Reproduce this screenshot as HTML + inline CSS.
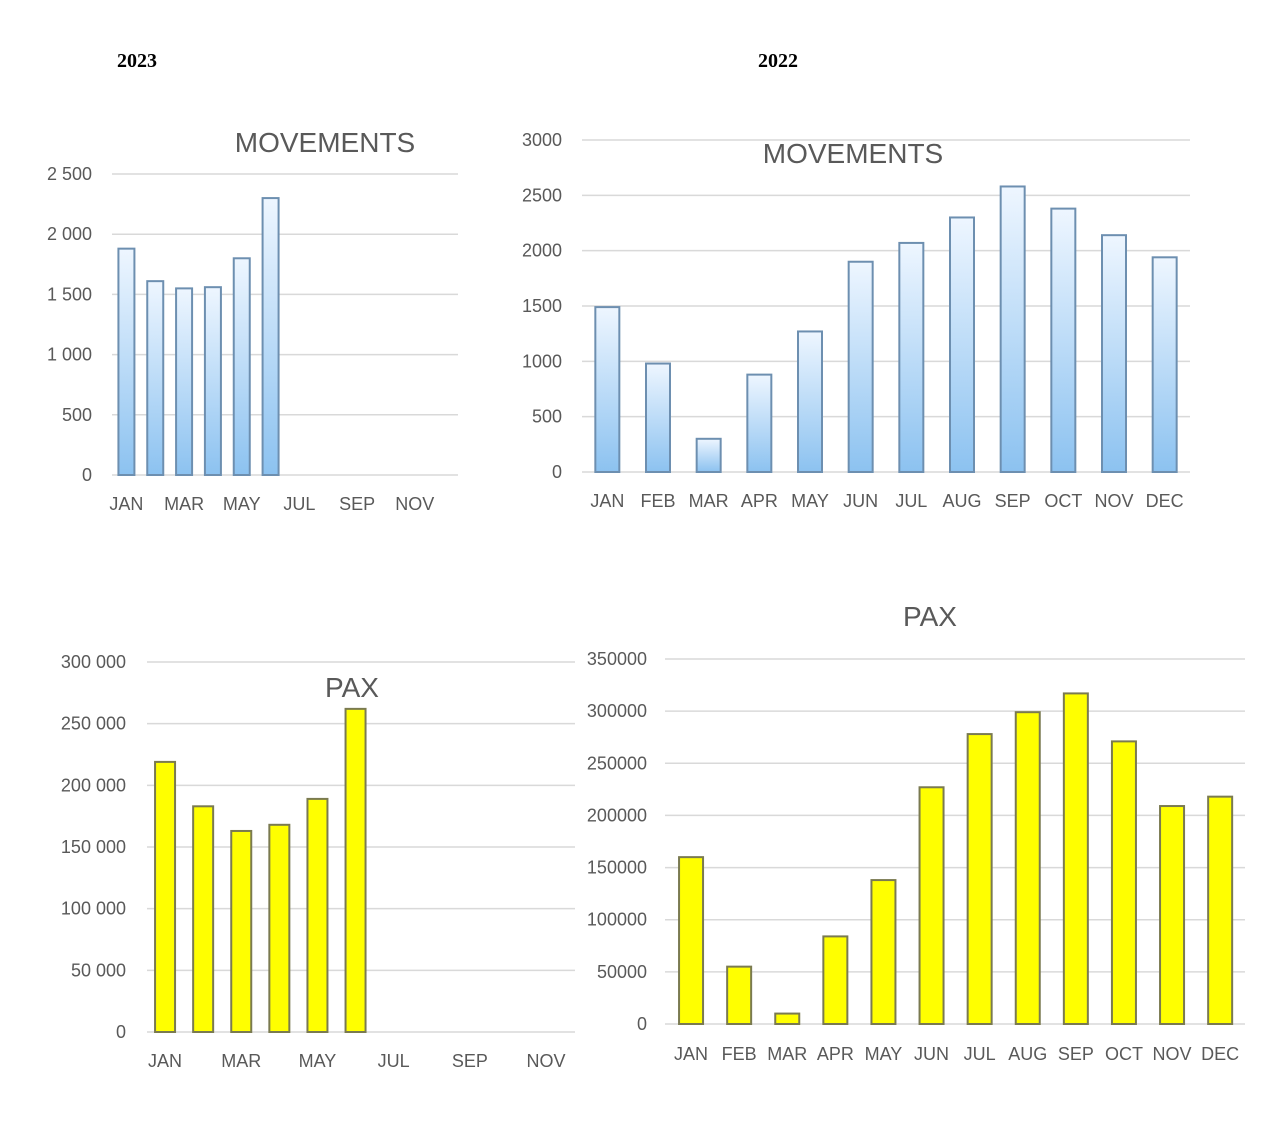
<!DOCTYPE html>
<html><head><meta charset="utf-8"><style>
html,body{margin:0;padding:0;background:#fff;width:1280px;height:1136px;overflow:hidden}
svg text{font-family:"Liberation Sans",sans-serif;fill:#595959}
</style></head><body>
<svg id="s" width="1280" height="1136" xmlns="http://www.w3.org/2000/svg">
<defs>
<linearGradient id="bg" x1="0" y1="0" x2="0" y2="1"><stop offset="0" stop-color="#eef6ff"/><stop offset="1" stop-color="#8cc2f0"/></linearGradient>
</defs>
<text x="117" y="67" style="font-family:'Liberation Serif',serif;fill:#000;font-size:20px;font-weight:bold">2023</text>
<text x="758" y="67" style="font-family:'Liberation Serif',serif;fill:#000;font-size:20px;font-weight:bold">2022</text>
</svg>
<script>
const s=document.getElementById('s');const NS='http://www.w3.org/2000/svg';
function el(t,a,txt){const e=document.createElementNS(NS,t);for(const k in a)e.setAttribute(k,a[k]);if(txt!=null)e.textContent=txt;s.appendChild(e);return e;}
const M=['JAN','FEB','MAR','APR','MAY','JUN','JUL','AUG','SEP','OCT','NOV','DEC'];
function chart(o){
 const n=o.ticks.length-1;
 for(let i=0;i<=n;i++){const y=o.y0+(o.yt-o.y0)*i/n;
  el('line',{x1:o.x0,x2:o.x1,y1:y,y2:y,stroke:'#d9d9d9','stroke-width':1.5});
  el('text',{x:o.lx,y:y+6,'text-anchor':'end','font-size':o.fs},o.ticks[i]);}
 const cw=o.cw||(o.x1-o.x0)/12;const bx=o.bx||o.x0;
 o.vals.forEach((v,i)=>{const c=bx+cw*(i+0.5);const y=o.y0-(o.y0-o.yt)*v/o.max;
  el('rect',{x:c-o.bw/2,y:y,width:o.bw,height:o.y0-y,fill:o.fill,stroke:o.stroke,'stroke-width':2});});
 M.forEach((m,i)=>{if(o.every2&&i%2)return;const c=bx+cw*(i+0.5);
  el('text',{x:c,y:o.ly,'text-anchor':'middle','font-size':o.fs},m);});
 el('text',{x:o.tx,y:o.ty,'text-anchor':'middle','font-size':28},o.title);
}
chart({x0:112,x1:458,y0:475,yt:174,ticks:['0','500','1 000','1 500','2 000','2 500'],max:2500,lx:92,fs:18,
 vals:[1880,1610,1550,1560,1800,2300],bw:16,fill:'url(#bg)',stroke:'#6d8fb0',ly:510,every2:true,title:'MOVEMENTS',tx:325,ty:152});
chart({x0:582,x1:1190,y0:472,yt:140,ticks:['0','500','1000','1500','2000','2500','3000'],max:3000,lx:562,fs:18,
 vals:[1490,980,300,880,1270,1900,2070,2300,2580,2380,2140,1940],bw:24,fill:'url(#bg)',stroke:'#6d8fb0',ly:507,title:'MOVEMENTS',tx:853,ty:163});
chart({x0:147,x1:575,y0:1032,yt:662,ticks:['0','50 000','100 000','150 000','200 000','250 000','300 000'],max:300000,lx:126,fs:18,
 cw:38.1,bx:146,
 vals:[219000,183000,163000,168000,189000,262000],bw:20,fill:'#ffff00',stroke:'#7a7a50',ly:1067,every2:true,title:'PAX',tx:352,ty:697});
chart({x0:665,x1:1245,y0:1024,yt:659,ticks:['0','50000','100000','150000','200000','250000','300000','350000'],max:350000,lx:647,fs:18,
 cw:48.1,bx:667,
 vals:[160000,55000,10000,84000,138000,227000,278000,299000,317000,271000,209000,218000],bw:24,fill:'#ffff00',stroke:'#7a7a50',ly:1060,title:'PAX',tx:930,ty:626});
</script>
</body></html>
